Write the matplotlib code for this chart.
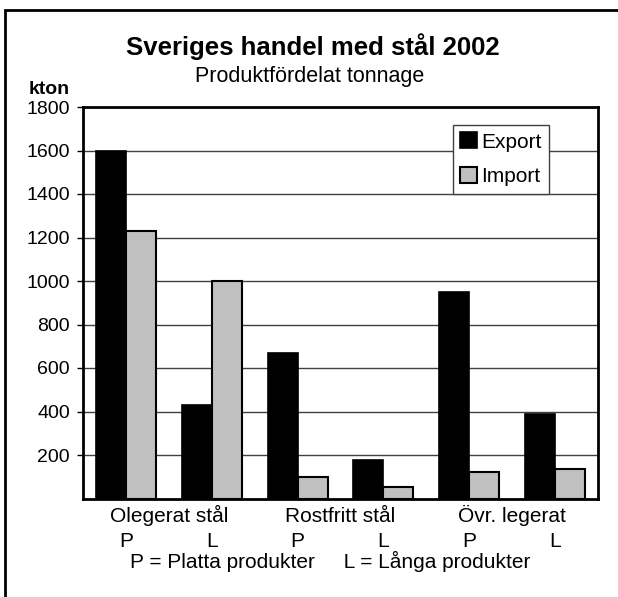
import matplotlib
matplotlib.use("Agg")
import matplotlib.pyplot as plt
import matplotlib.transforms as mtransforms
from matplotlib.patches import Rectangle
import numpy as np

plt.rcParams['font.family'] = ['Liberation Sans', 'DejaVu Sans']

groups = ["Olegerat stål", "Rostfritt stål", "Övr. legerat"]
sub_labels = ["P", "L", "P", "L", "P", "L"]
export = [1600, 430, 670, 175, 950, 390]
imp = [1230, 1000, 100, 55, 120, 135]
yticks = [200, 400, 600, 800, 1000, 1200, 1400, 1600, 1800]

W, H = 618, 597
fig = plt.figure(figsize=(W / 100, H / 100), dpi=100)
ax = fig.add_axes([83 / W, 1 - 498.5 / H, (598 - 83) / W, (498.5 - 107) / H])

def fy(py):
    return 1 - py / H

x = np.arange(len(export))
bw = 0.35
ax.bar(x - bw / 2, export, bw, color='black', edgecolor='black', linewidth=1.2, label='Export', zorder=3)
ax.bar(x + bw / 2, imp, bw, color='#c0c0c0', edgecolor='black', linewidth=1.5, label='Import', zorder=3)

ax.set_xlim(-0.5, len(export) - 0.5)
ax.set_ylim(0, 1800)
ax.set_yticks(yticks)
ax.set_yticklabels([str(v) for v in yticks], fontsize=14)
ax.tick_params(axis='y', length=4.5, width=1, pad=5, direction='out')
ax.set_xticks([])
ax.yaxis.grid(True, color='#404040', linewidth=1, zorder=0)
for s in ax.spines.values():
    s.set_linewidth(2)
    s.set_color('black')

trans = mtransforms.blended_transform_factory(ax.transData, fig.transFigure)
for i, g in enumerate(groups):
    fig.text(2 * i + 0.5, fy(522), g, ha='center', va='baseline', fontsize=15, transform=trans)
for i, s in enumerate(sub_labels):
    fig.text(i, fy(547), s, ha='center', va='baseline', fontsize=15, transform=trans)
fig.text(330 / W, fy(568), "P = Platta produkter     L = Långa produkter", ha='center', va='baseline', fontsize=15)

leg = ax.legend(loc='upper left', bbox_to_anchor=((453 - 83) / (598 - 83), (498.5 - 125) / (498.5 - 107)),
                fontsize=15, frameon=True, fancybox=False, edgecolor='#404040', framealpha=1,
                handlelength=0.8, handleheight=0.8, handletextpad=0.2, borderpad=0.35, labelspacing=0.75,
                borderaxespad=0)
leg.get_frame().set_linewidth(1)

fig.text(313 / W, fy(55), "Sveriges handel med stål 2002", ha='center', va='baseline', fontsize=18.5, fontweight='bold')
fig.text(310 / W, fy(82), "Produktfördelat tonnage", ha='center', va='baseline', fontsize=15.5)
fig.text(49 / W, fy(94), "kton", ha='center', va='baseline', fontsize=14, fontweight='bold')

fig.patches.append(Rectangle((5 / W, -0.05), 1.0, 1 - 10 / H + 0.05, transform=fig.transFigure,
                             fill=False, edgecolor='black', linewidth=2))

fig.savefig("out.png", dpi=100)
